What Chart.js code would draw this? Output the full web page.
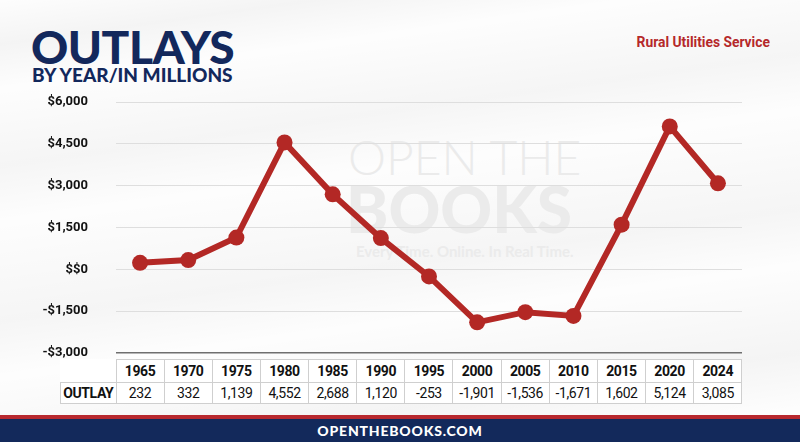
<!DOCTYPE html>
<html lang="en">

<head>
    <meta charset="UTF-8">
    <title>Outlays by Year</title>
    <script src="https://cdn.jsdelivr.net/npm/chart.js"></script>
    <style>
        body { margin: 0; }
        #page {
            position: relative; width: 800px; height: 442px; overflow: hidden;
            background:
                linear-gradient(172deg, rgba(0,0,0,0) 0%, rgba(0,0,0,0.035) 8%, rgba(0,0,0,0) 16%,
                    rgba(0,0,0,0.03) 30%, rgba(0,0,0,0) 40%, rgba(0,0,0,0.03) 58%, rgba(0,0,0,0) 68%,
                    rgba(0,0,0,0.035) 84%, rgba(0,0,0,0) 94%),
                #fdfdfd;
        }
        .title { position: absolute; left: 31px; top: 19px; font: 900 46px Lato, sans-serif; color: #13285c; letter-spacing: -0.5px; }
        .subtitle { position: absolute; left: 32px; top: 63px; font: 900 19px Lato, sans-serif; color: #13285c; }
        .agency { position: absolute; right: 30px; top: 33px; font: bold 15px Roboto, sans-serif; color: #b5282a; transform: scaleX(0.92); transform-origin: right center; }
        .wm { position: absolute; color: #ebebeb; font-family: Lato, sans-serif; white-space: nowrap; }
        #chart { position: absolute; left: 0; top: 0; }
        table { position: absolute; left: 60px; top: 359px; table-layout: fixed; border-collapse: collapse; font-family: Roboto, sans-serif; font-size: 14px; color: #111; background: #fff; }
        td { border: 1px solid #cfcfcf; text-align: center; padding: 0; letter-spacing: -0.4px; white-space: nowrap; overflow: hidden; }
        tr.head td { height: 22px; font-weight: bold; }
        tr.vals td { height: 20px; }
        .footer { position: absolute; left: 0; top: 415px; width: 800px; height: 27px; background: #13295b; border-top: 4px solid #b8292f; box-sizing: border-box; color: #fff; text-align: center; font: 900 14px Lato, sans-serif; letter-spacing: 0.8px; line-height: 23px; }
    </style>
</head>

<body>
    <div id="page">
        <div class="wm" style="left:348px; top:128px; font-size:48px; font-weight:300;">OPEN THE</div>
        <div class="wm" style="left:346px; top:170px; font-size:64px; font-weight:900;">BOOKS</div>
        <div class="wm" style="left:356px; top:242px; font-size:15px; font-weight:700;">Every Time. Online. In Real Time.</div>
        <div class="title">OUTLAYS</div>
        <div class="subtitle">BY YEAR/IN MILLIONS</div>
        <div class="agency">Rural Utilities Service</div>
        <canvas id="chart" width="800" height="442"></canvas>
        <table id="tbl"></table>
        <div class="footer">OPENTHEBOOKS.COM</div>
    </div>

    <script>
        var years = ['1965', '1970', '1975', '1980', '1985', '1990', '1995', '2000', '2005', '2010', '2015', '2020', '2024'];
        var outlays = [232, 332, 1139, 4552, 2688, 1120, -253, -1901, -1536, -1671, 1602, 5124, 3085];
        var yTicks = [-3000, -1500, 0, 1500, 3000, 4500, 6000];

        function money(v) {
            if (v === 0) return '$$0';
            return (v < 0 ? '-$' : '$') + Math.abs(v).toLocaleString('en-US');
        }

        // table under the chart, columns lined up with the category slots
        var tbl = document.getElementById('tbl');
        var colW = 626 / years.length;
        var head = '<tr class="head"><td style="border:none;width:55px"></td>';
        var vals = '<tr class="vals"><td style="font-weight:bold">OUTLAY</td>';
        years.forEach(function (y, i) {
            head += '<td style="width:' + (colW - 1).toFixed(2) + 'px">' + y + '</td>';
            vals += '<td>' + outlays[i].toLocaleString('en-US') + '</td>';
        });
        tbl.innerHTML = head + '</tr>' + vals + '</tr>';

        var chart = new Chart(document.getElementById('chart').getContext('2d'), {
            type: 'line',
            data: {
                labels: years,
                datasets: [{
                    label: 'Outlay',
                    data: outlays,
                    borderColor: '#b32825',
                    backgroundColor: '#b32825',
                    borderWidth: 6,
                    pointRadius: 8,
                    pointBorderWidth: 0,
                    tension: 0,
                    fill: false
                }]
            },
            options: {
                responsive: false,
                animation: false,
                layout: { padding: { top: 102, bottom: 89, left: 0, right: 58 } },
                plugins: { legend: { display: false }, tooltip: { enabled: false } },
                scales: {
                    x: { display: false, offset: true },
                    y: {
                        min: -3000,
                        max: 6000,
                        afterFit: function (scale) { scale.width = 116; },
                        afterBuildTicks: function (scale) {
                            scale.ticks = yTicks.map(function (v) { return { value: v }; });
                        },
                        border: { display: false },
                        grid: {
                            drawTicks: false,
                            color: function (ctx) { return ctx.tick && ctx.tick.value === -3000 ? '#6f6f6f' : '#dedede'; },
                            lineWidth: function (ctx) { return ctx.tick && ctx.tick.value === -3000 ? 1.5 : 1; }
                        },
                        ticks: {
                            padding: 28,
                            color: '#111',
                            font: { family: 'Roboto, sans-serif', size: 13, weight: 'bold' },
                            callback: function (v) { return money(v); }
                        }
                    }
                }
            }
        });
    </script>
</body>

</html>
